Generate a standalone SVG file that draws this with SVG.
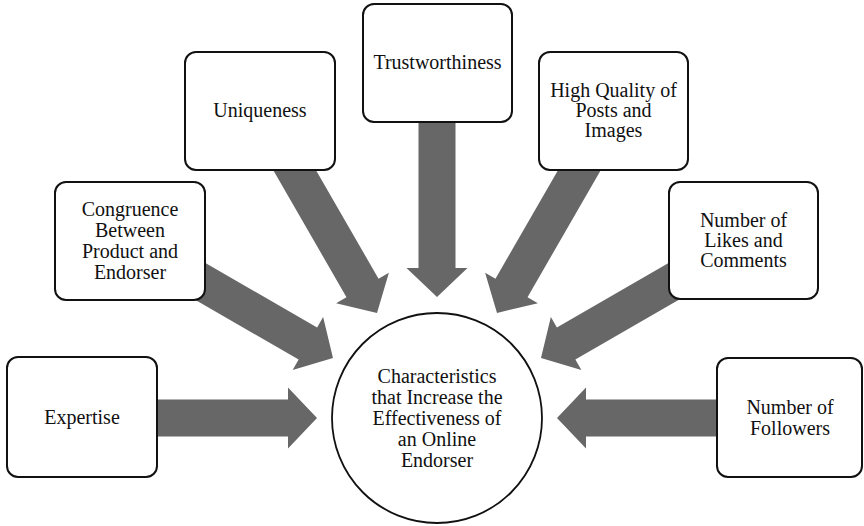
<svg xmlns="http://www.w3.org/2000/svg" xmlns:xlink="http://www.w3.org/1999/xlink" width="864" height="526" viewBox="0 0 864 526">
<style>
.box{fill:#fff;stroke:#111;stroke-width:2}
.arr{fill:#676767}
text{font-family:"Liberation Serif","Times New Roman",serif;font-size:20px;fill:#111;text-anchor:middle}
</style>
<defs>
<path id="arrow" class="arr" d="M0,0 L-29,-30.5 L-29,-18.5 L-180,-18.5 L-180,18.5 L-29,18.5 L-29,30.5 Z"/>
</defs>
<rect width="864" height="526" fill="#fff"/>
<g id="connectors">
<use xlink:href="#arrow" href="#arrow" transform="translate(317,418)"/>
<use xlink:href="#arrow" href="#arrow" transform="translate(333,358) rotate(30)"/>
<use xlink:href="#arrow" href="#arrow" transform="translate(377,313) rotate(60)"/>
<use xlink:href="#arrow" href="#arrow" transform="translate(437,297) rotate(90)"/>
<use xlink:href="#arrow" href="#arrow" transform="translate(497,313) rotate(120)"/>
<use xlink:href="#arrow" href="#arrow" transform="translate(541,358) rotate(150)"/>
<use xlink:href="#arrow" href="#arrow" transform="translate(557,418) rotate(180)"/>
</g>
<g id="center">
<circle cx="437" cy="418" r="105" fill="#fff" stroke="#111" stroke-width="1.8"/>
<text x="437" y="383">Characteristics</text>
<text x="437" y="404">that Increase the</text>
<text x="437" y="425">Effectiveness of</text>
<text x="437" y="446">an Online</text>
<text x="437" y="467">Endorser</text>
</g>
<g id="expertise">
<rect class="box" x="7" y="357" width="150" height="120" rx="11"/>
<text x="82" y="424">Expertise</text>
</g>
<g id="congruence">
<rect class="box" x="55" y="182" width="150" height="118" rx="11"/>
<text x="130" y="216">Congruence</text>
<text x="130" y="237">Between</text>
<text x="130" y="258">Product and</text>
<text x="130" y="279">Endorser</text>
</g>
<g id="uniqueness">
<rect class="box" x="185" y="52" width="150" height="118" rx="11"/>
<text x="260" y="117">Uniqueness</text>
</g>
<g id="trustworthiness">
<rect class="box" x="363" y="4" width="149" height="118" rx="11"/>
<text x="437.5" y="69">Trustworthiness</text>
</g>
<g id="quality">
<rect class="box" x="539" y="52" width="149" height="118" rx="11"/>
<text x="613.5" y="97">High Quality of</text>
<text x="613.5" y="117">Posts and</text>
<text x="613.5" y="137">Images</text>
</g>
<g id="likes">
<rect class="box" x="669" y="182" width="149" height="117" rx="11"/>
<text x="743.5" y="227">Number of</text>
<text x="743.5" y="247">Likes and</text>
<text x="743.5" y="267">Comments</text>
</g>
<g id="followers">
<rect class="box" x="717" y="358" width="145" height="119" rx="11"/>
<text x="790" y="414">Number of</text>
<text x="790" y="435">Followers</text>
</g>
</svg>
